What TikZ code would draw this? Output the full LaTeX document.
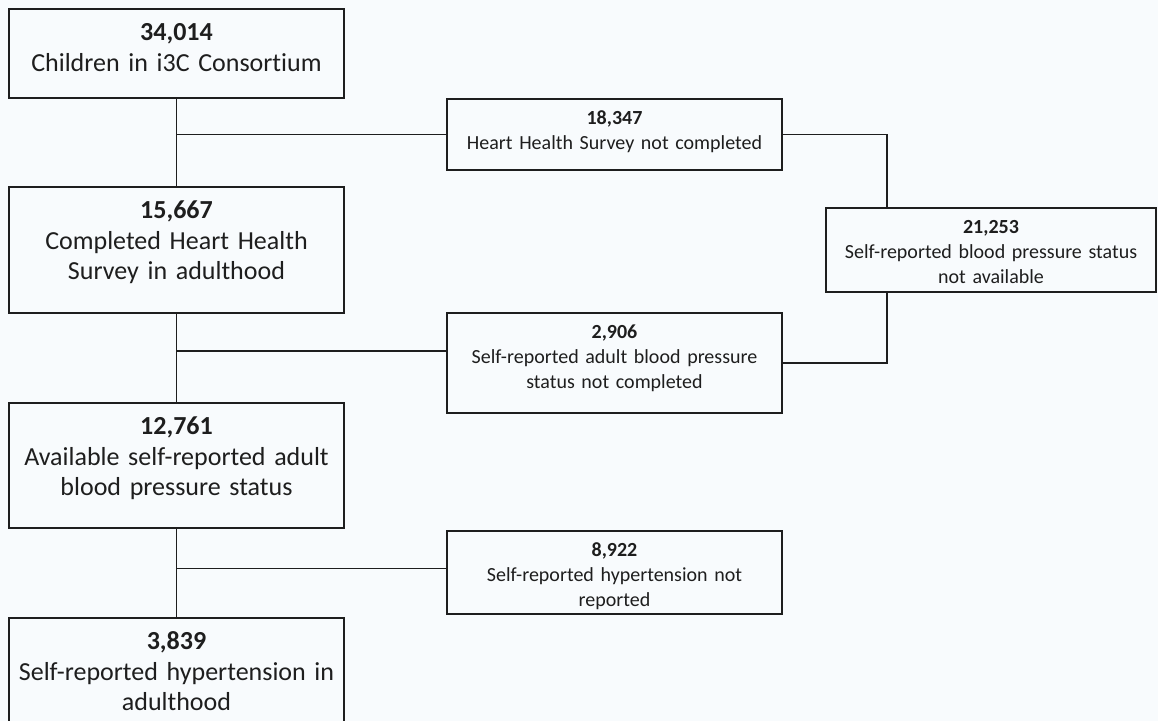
\documentclass[tikz,border=0pt]{standalone}
\usepackage{fontspec}
\setmainfont{Carlito}[Ligatures=NoCommon]
\usetikzlibrary{positioning}
\definecolor{pagebg}{RGB}{248,251,253}
\definecolor{inkgray}{RGB}{30,30,30}

\begin{document}
\begin{tikzpicture}[
  node distance=45pt,
  mainbox/.style={
    rectangle, draw=inkgray, line width=1pt, outer sep=0pt,
    minimum width=167.5pt, text width=163.5pt, inner xsep=2pt, inner ysep=0pt,
    align=center, text height=16pt, text depth=#1, text=inkgray,
    font=\fontsize{13pt}{15.25pt}\selectfont
  },
  sidebox/.style={
    rectangle, draw=inkgray, line width=1pt, outer sep=0pt,
    minimum width=167.5pt, text width=163.5pt, inner xsep=2pt, inner ysep=0pt,
    align=center, text height=13pt, text depth=#1, text=inkgray,
    font=\fontsize{10pt}{12.3pt}\selectfont
  },
  conn/.style={draw=inkgray, line width=0.65pt}
]
\fill[pagebg] (0,0) rectangle (579pt,-360.5pt);
\useasboundingbox (0,0) rectangle (579pt,-360.5pt);

\node[mainbox=28.5pt, anchor=north west] (children) at (4.5pt,-4.5pt) {\textbf{34,014}\\Children in i3C Consortium};
\node[mainbox=47pt, below=44.5pt of children] (survey) {\textbf{15,667}\\Completed Heart Health\\Survey in adulthood};
\node[mainbox=46.5pt, below=of survey] (bpstatus) {\textbf{12,761}\\Available self-reported adult\\blood pressure status};
\node[mainbox=43pt, below=of bpstatus] (hypertension) {\textbf{3,839}\\Self-reported hypertension in\\adulthood};

\node[sidebox=22.5pt, anchor=north west] (notsurvey) at (223.5pt,-49.5pt) {\textbf{18,347}\\Heart Health Survey not completed};
\node[sidebox=37pt, anchor=north west] (bpmissing) at (223.5pt,-156.5pt) {\textbf{2,906}\\Self-reported adult blood pressure\\status not completed};
\node[sidebox=28.5pt, anchor=north west] (nothyper) at (223.5pt,-265.5pt) {\textbf{8,922}\\Self-reported hypertension not\\reported};
\node[sidebox=29pt, minimum width=165pt, text width=161pt, anchor=north west] (bpnotavail) at (413pt,-104pt) {\textbf{21,253}\\Self-reported blood pressure status\\not available};

\coordinate (fleft) at ([yshift=6pt]bpmissing.west);
\coordinate (hleft) at ([yshift=2pt]nothyper.west);
\coordinate (gtop) at ([xshift=-52pt]bpnotavail.north);
\coordinate (gbot) at ([xshift=-52pt]bpnotavail.south);

\draw[conn] (children) -- (survey);
\draw[conn] (survey) -- (bpstatus);
\draw[conn] (bpstatus) -- (hypertension);
\draw[conn] (notsurvey.west) -- (notsurvey.west -| children.south);
\draw[conn] (fleft) -- (fleft -| survey.south);
\draw[conn] (hleft) -- (hleft -| bpstatus.south);
\draw[conn] (notsurvey.east) -| (gtop);
\draw[conn] (gbot) |- (bpmissing.east);

\end{tikzpicture}
\end{document}
